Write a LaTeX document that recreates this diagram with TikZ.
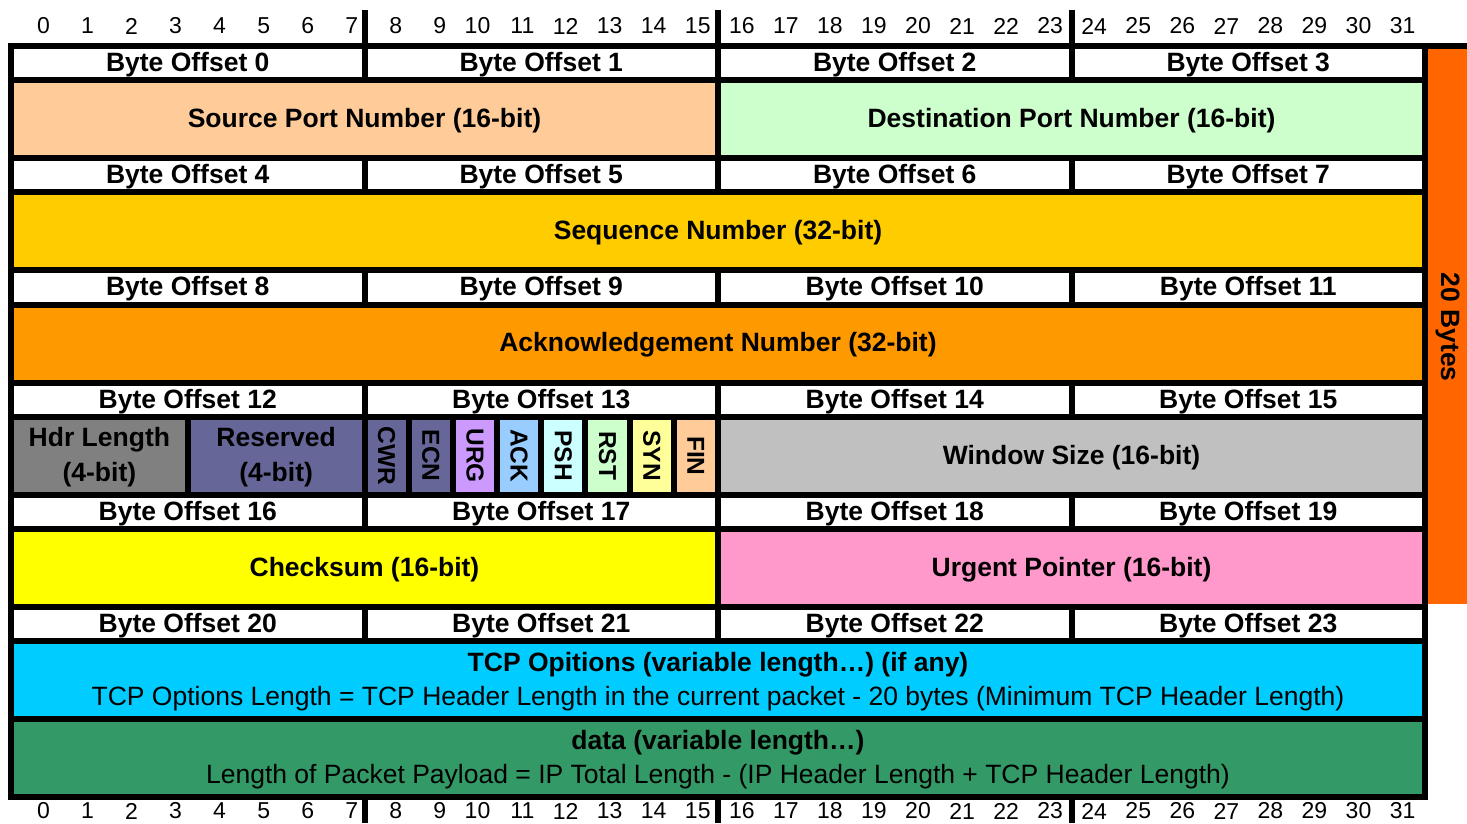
\documentclass[tikz,border=0pt]{standalone}
\usepackage{fontspec}
\setmainfont{Liberation Sans}
\definecolor{cSrc}{HTML}{FFCC99}
\definecolor{cDst}{HTML}{CCFFCC}
\definecolor{cSeq}{HTML}{FFCC00}
\definecolor{cAck}{HTML}{FF9900}
\definecolor{cBar}{HTML}{FF6600}
\definecolor{cHdr}{HTML}{808080}
\definecolor{cRes}{HTML}{666699}
\definecolor{cUrg}{HTML}{CC99FF}
\definecolor{cAckf}{HTML}{99CCFF}
\definecolor{cPsh}{HTML}{CCFFFF}
\definecolor{cRst}{HTML}{CCFFCC}
\definecolor{cSyn}{HTML}{FFFF99}
\definecolor{cFin}{HTML}{FFCC99}
\definecolor{cWin}{HTML}{C0C0C0}
\definecolor{cChk}{HTML}{FFFF00}
\definecolor{cUrp}{HTML}{FF99CC}
\definecolor{cOpt}{HTML}{00CCFF}
\definecolor{cDat}{HTML}{339966}
% name, first bit, end bit, top, bottom, colour, text
\newcommand\fcell[7]{%
  \fill[#6] ({14+44.1875*(#2)},{#4}) rectangle ({8+44.1875*(#3)},{#5});
  \node[lbl] (#1) at ({(22+44.1875*((#2)+(#3)))/2},{((#4)+(#5))/2}) {#7};}
% name, bit, colour, text
\newcommand\flagcell[4]{%
  \fill[#3] ({14+44.1875*(#2)},419.8) rectangle ({8+44.1875*(#2+1)},491.8);
  \node[flg] (#1) at ({11+44.1875*(#2)+22.09},455.8) {#4};}
\begin{document}
\begin{tikzpicture}[x=1pt,y=-1pt,
  lbl/.style={inner sep=0pt, align=center, yshift=-1.5pt, font=\fontsize{26.5}{34.5}\selectfont\bfseries},
  flg/.style={inner sep=0pt, rotate=-90, font=\fontsize{24.5}{28}\selectfont\bfseries},
  dig/.style={inner sep=0pt, anchor=east, font=\fontsize{23}{26}\selectfont}]
\useasboundingbox (0,0) rectangle (1467,823);
\fill[white] (0,0) rectangle (1467,823);
\fill[black] (8,43) rectangle (1428,800.2);
\fill[black] (1428,43) rectangle (1467,49);
\fill[cBar] (1428,49) rectangle (1467,604);
\node[lbl, rotate=-90, yshift=0pt, xshift=-1pt] (bytes20) at (1447.5,326.5) {20 Bytes};
% byte separators above and below
\foreach \k in {1,2,3} {
  \fill[black] ({8+44.1875*8*\k},10) rectangle ({14+44.1875*8*\k},43);
  \fill[black] ({8+44.1875*8*\k},800) rectangle ({14+44.1875*8*\k},823);
}
% bit numbers
\foreach \i in {0,...,31} {
  \node[dig] (top\i) at ({50+44.05*\i},26) {\i};
  \node[dig] (bot\i) at ({50+44.05*\i},811) {\i};
}
% byte offset rows
\foreach \r in {0,...,5} {
  \foreach \c in {0,...,3} {
    \pgfmathtruncatemacro\off{4*\r+\c}
    \pgfmathsetmacro\yt{49+112.2*\r}
    \pgfmathsetmacro\yb{\yt+28.2}
    \pgfmathtruncatemacro\ba{8*\c}
    \pgfmathtruncatemacro\bb{8*\c+8}
    \fcell{bo\off}{\ba}{\bb}{\yt}{\yb}{white}{Byte Offset \off}
  }
}
% fields
\fcell{src}{0}{16}{83.2}{155.2}{cSrc}{Source Port Number (16-bit)}
\fcell{dst}{16}{32}{83.2}{155.2}{cDst}{Destination Port Number (16-bit)}
\fcell{seq}{0}{32}{195.4}{267.4}{cSeq}{Sequence Number (32-bit)}
\fcell{ack}{0}{32}{307.6}{379.6}{cAck}{Acknowledgement Number (32-bit)}
\fcell{hdr}{0}{4}{419.8}{491.8}{cHdr}{Hdr Length\\(4-bit)}
\fcell{res}{4}{8}{419.8}{491.8}{cRes}{Reserved\\(4-bit)}
\flagcell{cwr}{8}{cRes}{CWR}
\flagcell{ecn}{9}{cRes}{ECN}
\flagcell{urg}{10}{cUrg}{URG}
\flagcell{ackf}{11}{cAckf}{ACK}
\flagcell{psh}{12}{cPsh}{PSH}
\flagcell{rst}{13}{cRst}{RST}
\flagcell{syn}{14}{cSyn}{SYN}
\flagcell{fin}{15}{cFin}{FIN}
\fcell{win}{16}{32}{419.8}{491.8}{cWin}{Window Size (16-bit)}
\fcell{chk}{0}{16}{532}{604}{cChk}{Checksum (16-bit)}
\fcell{urp}{16}{32}{532}{604}{cUrp}{Urgent Pointer (16-bit)}
\fcell{opt}{0}{32}{644.2}{716.2}{cOpt}{TCP Opitions (variable length…) (if any)\\{\fontsize{26.5}{33}\selectfont\mdseries TCP Options Length = TCP Header Length in the current packet - 20 bytes (Minimum TCP Header Length)}}
\fcell{dat}{0}{32}{722.2}{794.2}{cDat}{data (variable length…)\\{\fontsize{26.5}{33}\selectfont\mdseries Length of Packet Payload = IP Total Length - (IP Header Length + TCP Header Length)}}
\end{tikzpicture}
\end{document}
